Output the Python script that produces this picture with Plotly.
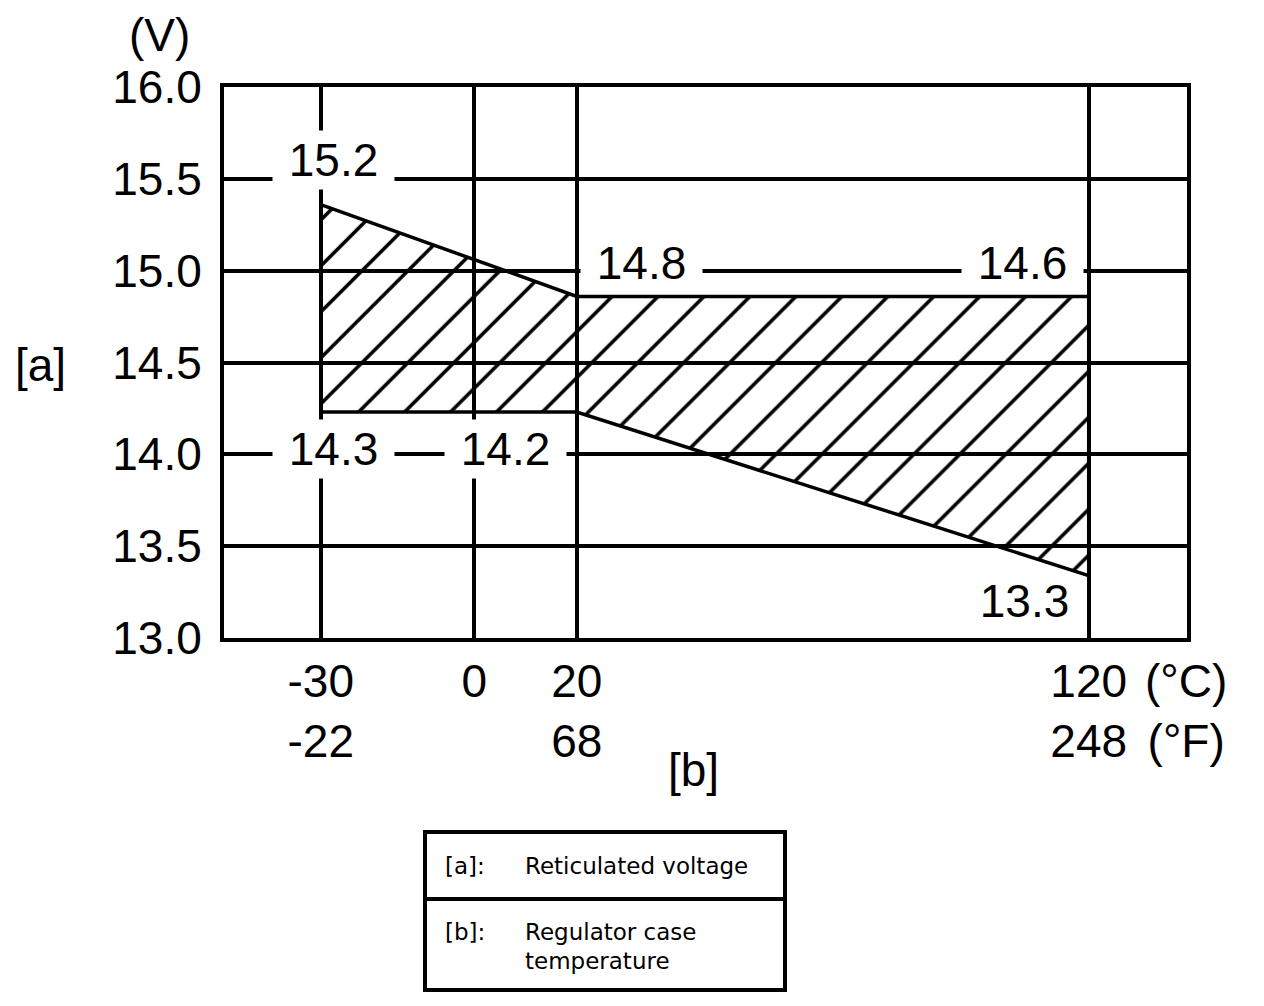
import plotly.graph_objects as go

# regulated voltage band (schematic, as drawn)
band_temp = [-30, 20, 120]
band_top = [15.36, 14.86, 14.86]
band_bottom = [14.23, 14.23, 13.34]

# spec values printed on the chart
upper_labels = ["15.2", "14.8", "14.6"]
lower_labels = ["14.3", "14.2", "13.3"]

# axis ticks
temp_c = [-30, 0, 20, 120]
temp_f = ["-22", " ", "68", "248"]
volt_ticks = [13.0, 13.5, 14.0, 14.5, 15.0, 15.5, 16.0]

FONT = "Liberation Sans, Arial, sans-serif"

# page pixels -> paper fractions (plot area 224..1187 x 87..638 on the page)
def px(x):
    return (x - 224) / 963

def py(y):
    return (638 - y) / 551

poly_x = band_temp + band_temp[::-1] + [band_temp[0]]
poly_y = band_top + band_bottom[::-1] + [band_top[0]]

fig = go.Figure(
    data=go.Scatter(
        x=poly_x, y=poly_y, mode="lines", fill="toself",
        fillcolor="rgba(0,0,0,0)",
        fillpattern=dict(shape="/", size=32.5, solidity=0.11, fgcolor="black",
                         fgopacity=1, bgcolor="rgba(0,0,0,0)"),
        line=dict(color="black", width=3.5), hoverinfo="skip",
    )
)

big = dict(size=46, family=FONT, color="black")

# label anchors (layout only)
label_xy = [(-27.6, 15.60), (32.6, 15.04), (107.0, 15.04),
            (-27.6, 14.03), (6.0, 14.03), (107.4, 13.20)]
label_bg = ["white"] * 5 + ["rgba(0,0,0,0)"]
annos = []
for txt, (lx, ly), bg in zip(upper_labels + lower_labels, label_xy, label_bg):
    annos.append(dict(x=lx, y=ly, xref="x", yref="y", text="&nbsp;" + txt + "&nbsp;",
                      showarrow=False, bgcolor=bg, borderpad=3, font=big))

for tx, ty, txt in [(159, 35, "(V)"), (40, 365, "[a]"), (693, 770, "[b]"),
                    (1186, 711, "(°C)<br>(°F)")]:
    annos.append(dict(x=px(tx), y=py(ty), xref="paper", yref="paper", xanchor="center",
                      yanchor="middle", text=txt, showarrow=False, font=big))

small = dict(size=23, family="DejaVu Sans, Verdana, sans-serif", color="black")
for tx, ty, txt in [(443, 866, "[a]:"), (523, 866, "Reticulated voltage"),
                    (443, 932, "[b]:"), (523, 932, "Regulator case"), (523, 961, "temperature")]:
    annos.append(dict(x=px(tx), y=py(ty), xref="paper", yref="paper", xanchor="left",
                      yanchor="middle", text=txt, showarrow=False, font=small))

shapes = [
    dict(type="rect", xref="paper", yref="paper", x0=px(425), x1=px(785),
         y0=py(832), y1=py(990), line=dict(color="black", width=4)),
    dict(type="line", xref="paper", yref="paper", x0=px(425), x1=px(785),
         y0=py(899), y1=py(899), line=dict(color="black", width=4)),
]

fig.update_layout(
    width=1248, height=990, showlegend=False,
    margin=dict(l=216, r=69, t=79, b=360),
    plot_bgcolor="white", paper_bgcolor="white",
    annotations=annos, shapes=shapes,
    xaxis=dict(range=[-48.9, 139.2], tickvals=temp_c,
               ticktext=[f"{c}<br>{f}" for c, f in zip(temp_c, temp_f)],
               showgrid=True, gridcolor="black", gridwidth=3.5, zeroline=False,
               showline=True, mirror=True, linecolor="black", linewidth=4,
               ticks="", tickfont=big),
    yaxis=dict(range=[13, 16], tickvals=volt_ticks, tickformat=".1f",
               showgrid=True, gridcolor="black", gridwidth=3.5, zeroline=False,
               showline=True, mirror=True, linecolor="black", linewidth=4,
               ticks="", tickfont=big, ticklabelstandoff=9),
)

fig.write_html("out.html", config={"displayModeBar": False})
